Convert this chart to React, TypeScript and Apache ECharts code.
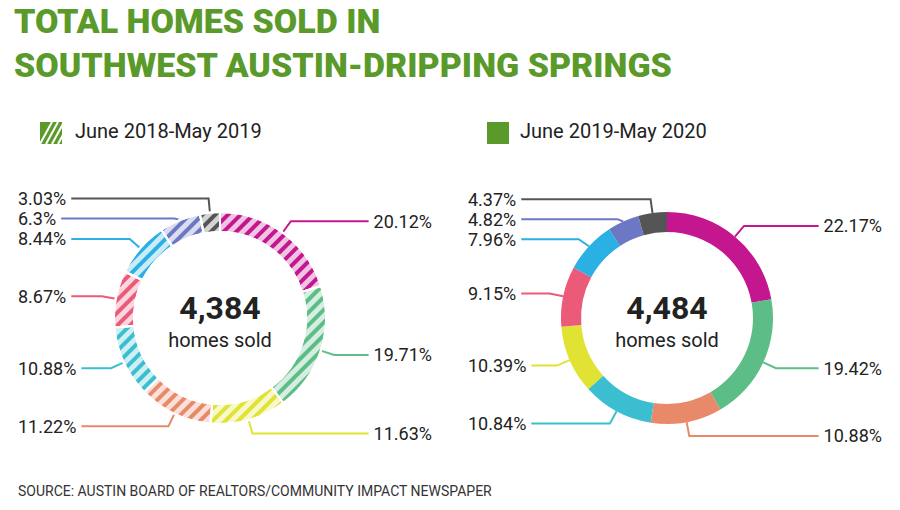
import React, { useEffect, useRef } from 'react'
import * as echarts from 'echarts'

const leftValues = [20.12, 19.71, 11.63, 11.22, 10.88, 8.67, 8.44, 6.3, 3.03]
const leftColors = ['#c4168f', '#5dbd86', '#e0e334', '#e8896a', '#3bbfd0', '#ec5a7a', '#2ab0e3', '#6c78c4', '#555555']
const rightValues = [22.17, 19.42, 10.88, 10.84, 10.39, 9.15, 7.96, 4.82, 4.37]
const rightColors = ['#c4168f', '#5dbd86', '#e8896a', '#3bbfd0', '#e0e334', '#ec5a7a', '#2ab0e3', '#6c78c4', '#555555']
const totals = ['4,384', '4,484']
const periods = ['June 2018-May 2019', 'June 2019-May 2020']

const App: React.FC = () => {
  const ref = useRef<HTMLDivElement>(null)

  useEffect(() => {
    if (!ref.current) return
    const chart = echarts.init(ref.current, null, { renderer: 'svg' })
    const font = 'Roboto, "Open Sans", sans-serif'

    const makePie = (vals: number[], cols: string[], boxLeft: number, cx: number, hatched: boolean) => ({
      type: 'pie',
      left: boxLeft,
      top: 0,
      width: 450,
      height: 510,
      center: [cx, 318],
      radius: [86, 106],
      startAngle: 90,
      clockwise: true,
      avoidLabelOverlap: true,
      data: vals.map((v, i) => ({
        value: v,
        itemStyle: {
          color: cols[i],
          borderColor: hatched ? '#fff' : cols[i],
          borderWidth: hatched ? 2 : 0,
          decal: hatched
            ? { symbol: 'rect', dashArrayX: [1, 0], dashArrayY: [5, 4], rotation: -Math.PI / 4, color: 'rgba(255,255,255,0.75)' }
            : 'none'
        },
        labelLine: { lineStyle: { color: cols[i], width: 2 } }
      })),
      label: {
        formatter: (p: any) => p.value + '%',
        fontSize: 18,
        color: '#222',
        fontFamily: font,
        alignTo: 'edge',
        edgeDistance: 18,
        overflow: 'none'
      },
      labelLine: { length: 14, length2: 20 },
      emphasis: { disabled: true }
    })

    const hatchLines: any[] = []
    for (let k = 0; k < 4; k++) {
      hatchLines.push({
        type: 'line',
        shape: { x1: 40 + k * 6, y1: 144, x2: 40 + k * 6 + 12, y2: 122 },
        style: { stroke: '#fff', lineWidth: 2 },
        z: 10
      })
    }

    chart.setOption({
      animation: false,
      backgroundColor: '#fff',
      graphic: [
        { type: 'text', left: 14, top: 4, style: { text: 'TOTAL HOMES SOLD IN', font: `900 34px ${font}`, fill: '#5a9a2a' } },
        { type: 'text', left: 14, top: 48, style: { text: 'SOUTHWEST AUSTIN-DRIPPING SPRINGS', font: `900 34px ${font}`, fill: '#5a9a2a' } },
        { type: 'rect', shape: { x: 40, y: 122, width: 22, height: 22 }, style: { fill: '#5a9a2a' } },
        { type: 'group', children: hatchLines },
        { type: 'rect', shape: { x: 62, y: 118, width: 10, height: 30 }, style: { fill: '#fff' }, z: 11 },
        { type: 'rect', shape: { x: 34, y: 114, width: 30, height: 8 }, style: { fill: '#fff' }, z: 11 },
        { type: 'text', left: 75, top: 121, style: { text: periods[0], font: `20px ${font}`, fill: '#222' }, z: 12 },
        { type: 'rect', shape: { x: 487, y: 122, width: 22, height: 22 }, style: { fill: '#5a9a2a' } },
        { type: 'text', left: 520, top: 121, style: { text: periods[1], font: `20px ${font}`, fill: '#222' } },
        { type: 'text', x: 220, y: 308, style: { text: totals[0], font: `bold 32px ${font}`, fill: '#222', align: 'center', verticalAlign: 'middle' } },
        { type: 'text', x: 220, y: 340, style: { text: 'homes sold', font: `20px ${font}`, fill: '#222', align: 'center', verticalAlign: 'middle' } },
        { type: 'text', x: 667, y: 308, style: { text: totals[1], font: `bold 32px ${font}`, fill: '#222', align: 'center', verticalAlign: 'middle' } },
        { type: 'text', x: 667, y: 340, style: { text: 'homes sold', font: `20px ${font}`, fill: '#222', align: 'center', verticalAlign: 'middle' } },
        { type: 'text', left: 18, top: 484, style: { text: 'SOURCE: AUSTIN BOARD OF REALTORS/COMMUNITY IMPACT NEWSPAPER', font: `14px ${font}`, fill: '#333' } }
      ],
      series: [makePie(leftValues, leftColors, 0, 220, true), makePie(rightValues, rightColors, 450, 217, false)]
    })
    return () => chart.dispose()
  }, [])

  return <div ref={ref} style={{ position: 'absolute', left: 0, top: 0, width: 900, height: 510 }} />
}

export default App
